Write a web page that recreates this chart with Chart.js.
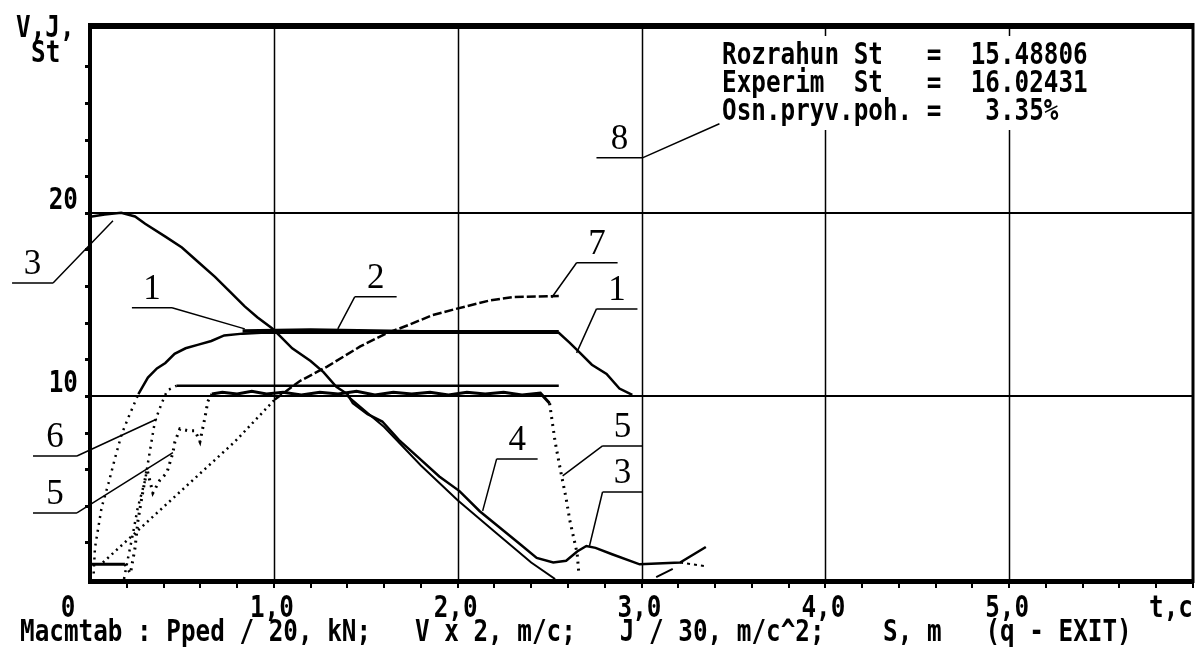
<!DOCTYPE html>
<html>
<head>
<meta charset="utf-8">
<script src="https://cdn.jsdelivr.net/npm/chart.js@4.4.0/dist/chart.umd.min.js"></script>
<style>
  html, body { margin: 0; padding: 0; background: #fff; }
  #brakeChart { display: block; }
</style>
</head>
<body>
<canvas id="brakeChart" width="1196" height="659"></canvas>
<script>
// axis ticks / labels
const timeTicks = [0, 1, 2, 3, 4, 5];
const timeTickLabels = ['0', '1,0', '2,0', '3,0', '4,0', '5,0'];
const valueGrid = [10, 20];
const valueTickLabels = ['10', '20'];

// curves: [t, value]
const curve1 = [[0.02,0.3],[0.027,1.7],[0.045,2.8],[0.063,3.9],[0.10,5.2],[0.136,6.6],[0.172,7.9],[0.208,8.8],
  [0.263,10.1],[0.315,11.0],[0.364,11.5],[0.41,11.8],[0.46,12.3],[0.52,12.6],[0.59,12.8],[0.66,13.0],
  [0.73,13.3],[0.83,13.4],[0.93,13.45],[2.55,13.45],[2.61,12.9],[2.66,12.4],[2.73,11.7],[2.81,11.2],
  [2.88,10.4],[2.95,10.05]];
const curve2 = [[0.83,13.55],[1.2,13.6],[1.8,13.5],[2.55,13.5]];
const curve3 = [[0.01,19.8],[0.08,19.9],[0.17,20.0],[0.245,19.8],[0.30,19.4],[0.41,18.7],[0.50,18.1],
  [0.59,17.3],[0.68,16.5],[0.75,15.8],[0.84,14.9],[0.91,14.3],[0.99,13.7],[1.03,13.3],[1.10,12.6],
  [1.20,11.9],[1.27,11.3],[1.34,10.5],[1.40,10.1],[1.43,9.6],[1.51,9.0],[1.59,8.6],[1.68,7.6],
  [1.79,6.6],[1.90,5.6],[2.01,4.8],[2.12,3.7],[2.23,2.8],[2.34,1.9],[2.43,1.15],[2.52,0.9],[2.59,1.0],
  [2.65,1.5],[2.70,1.8],[2.75,1.7],[2.84,1.35],[2.99,0.8],[3.21,0.9],[3.35,1.75]];
const curve3Branch = [[3.21,0.9],[3.35,0.7]];
const curve4 = [[1.40,10.0],[1.60,8.3],[1.80,6.2],[2.0,4.3],[2.2,2.6],[2.40,0.9],[2.53,0.0]];
const curve5 = [[0.0,0.8],[0.19,0.8],[0.22,0.3],[0.245,1.7],[0.261,3.2],[0.288,4.8],[0.31,6.0],
  [0.342,4.7],[0.38,5.4],[0.418,5.8],[0.451,6.9],[0.462,7.5],[0.489,8.2],[0.533,8.1],[0.571,8.1],
  [0.598,7.5],[0.625,8.8],[0.641,9.7],[0.663,10.1],[0.72,10.2],[0.80,10.1],[0.88,10.25],[0.96,10.1],
  [1.05,10.2],[1.15,10.05],[1.25,10.2],[1.35,10.1],[1.45,10.25],[1.55,10.05],[1.65,10.2],[1.75,10.1],
  [1.85,10.2],[1.95,10.05],[2.05,10.2],[2.15,10.1],[2.25,10.2],[2.35,10.05],[2.45,10.15],[2.50,9.6],
  [2.53,7.5],[2.56,5.9],[2.59,4.4],[2.61,3.2],[2.65,1.4],[2.66,0.2]];
const curve5Tail = [[3.08,0.1],[3.17,0.55]];
const curve6 = [[0.185,0.0],[0.207,1.15],[0.234,2.5],[0.26,3.9],[0.30,5.4],[0.326,7.0],[0.353,8.6],
  [0.39,9.6],[0.42,10.3],[0.47,10.55],[2.55,10.55]];
const curve7 = [[0.07,0.9],[0.516,5.0],[0.788,7.5],[1.005,9.8],[1.14,10.8],[1.29,11.6],[1.47,12.7],
  [1.61,13.4],[1.74,13.9],[1.86,14.4],[1.99,14.75],[2.17,15.2],[2.30,15.4],[2.55,15.45]];

// numbered call-outs: label, underline x0..x1 at y, pointer from left/right end to target (data units)
const callouts = [
  ['3', -0.424, -0.201, 16.17, 'R', 0.125, 19.56],
  ['1',  0.228,  0.446, 14.81, 'R', 0.842, 13.66],
  ['2',  1.440,  1.668, 15.41, 'L', 1.348, 13.66],
  ['7',  2.647,  2.870, 17.27, 'L', 2.511, 15.36],
  ['1',  2.755,  2.978, 14.75, 'L', 2.647, 12.35],
  ['8',  2.755,  3.005, 23.00, 'R', 3.424, 24.86],
  ['6', -0.310, -0.071,  6.72, 'R', 0.364, 8.74],
  ['5', -0.310, -0.071,  3.61, 'R', 0.451, 6.9],
  ['4',  2.212,  2.435,  6.56, 'L', 2.136, 3.72],
  ['5',  2.788,  3.005,  7.27, 'L', 2.571, 5.63],
  ['3',  2.788,  3.005,  4.75, 'L', 2.717, 1.80]
];

const infoLines = ['Rozrahun St   =  15.48806', 'Experim  St   =  16.02431', 'Osn.pryv.poh. =   3.35%'];
const footer = 'Macmtab : Pped / 20, kN;   V x 2, m/c;   J / 30, m/c^2;    S, m   (q - EXIT)';

const DOS = 'bold 24.3px "DejaVu Sans Mono"';
const dotted = [2, 5];
const pts = arr => arr.map(p => ({ x: p[0], y: p[1] }));

function line(data, width, dashFn) {
  const ds = { data: pts(data), borderColor: '#000', borderWidth: width, pointRadius: 0, tension: 0, fill: false };
  if (dashFn) ds.segment = { borderDash: dashFn };
  return ds;
}

// tall, narrow "screen font" text
function dosText(ctx, s, x, y, align) {
  ctx.save();
  ctx.font = DOS;
  ctx.textAlign = align || 'left';
  ctx.textBaseline = 'alphabetic';
  ctx.translate(x, y);
  ctx.scale(1, 1.22);
  ctx.fillText(s, 0, 0);
  ctx.restore();
}

const framePlugin = {
  id: 'frame',
  beforeDatasetsDraw(chart) {
    const { ctx, chartArea: a, scales: { x, y } } = chart;
    ctx.save();
    ctx.fillStyle = '#fff';
    ctx.fillRect(0, 0, chart.width, chart.height);
    ctx.strokeStyle = '#000';
    ctx.lineWidth = 1.5;
    timeTicks.slice(1).forEach(t => {
      const px = Math.round(x.getPixelForValue(t)) + 0.5;
      ctx.beginPath(); ctx.moveTo(px, a.top); ctx.lineTo(px, a.bottom); ctx.stroke();
    });
    ctx.lineWidth = 2;
    valueGrid.forEach(v => {
      const py = Math.round(y.getPixelForValue(v));
      ctx.beginPath(); ctx.moveTo(a.left, py); ctx.lineTo(a.right, py); ctx.stroke();
    });
    ctx.restore();
  },
  afterDatasetsDraw(chart) {
    const { ctx, chartArea: a, scales: { x, y } } = chart;
    ctx.save();
    ctx.strokeStyle = '#000';
    ctx.fillStyle = '#000';
    // frame
    ctx.lineWidth = 6; ctx.beginPath(); ctx.moveTo(a.left - 2, a.top); ctx.lineTo(a.right + 1, a.top); ctx.stroke();
    ctx.lineWidth = 4; ctx.beginPath(); ctx.moveTo(a.left, a.top - 3); ctx.lineTo(a.left, a.bottom + 4); ctx.stroke();
    ctx.lineWidth = 5; ctx.beginPath(); ctx.moveTo(a.left - 2, a.bottom + 2.5); ctx.lineTo(a.right + 1, a.bottom + 2.5); ctx.stroke();
    ctx.lineWidth = 3; ctx.beginPath(); ctx.moveTo(a.right, a.top - 3); ctx.lineTo(a.right, a.bottom + 4); ctx.stroke();
    // minor ticks
    for (let i = 1; i <= 30; i++) {
      const px = Math.round(x.getPixelForValue(i * 0.2));
      ctx.fillRect(px - 1, a.bottom + 4, 2, 5);
    }
    for (let i = 1; i <= 14; i++) {
      const py = Math.round(y.getPixelForValue(i * 2));
      ctx.fillRect(a.left - 5, py - 1, 3, 3);
    }

    // info box
    ctx.fillStyle = '#fff';
    ctx.fillRect(716, 36, 386, 94);
    ctx.fillStyle = '#000';
    infoLines.forEach((s, i) => dosText(ctx, s, 722, 64 + i * 28));

    // call-outs
    ctx.lineWidth = 1.5;
    ctx.font = '35px "Liberation Serif"';
    ctx.textAlign = 'center';
    ctx.textBaseline = 'alphabetic';
    callouts.forEach(([lab, x0, x1, uy, side, tx, ty]) => {
      const px0 = x.getPixelForValue(x0), px1 = x.getPixelForValue(x1), py = y.getPixelForValue(uy);
      const sx = side === 'R' ? px1 : px0;
      ctx.beginPath();
      ctx.moveTo(px0, py); ctx.lineTo(px1, py);
      ctx.moveTo(sx, py); ctx.lineTo(x.getPixelForValue(tx), y.getPixelForValue(ty));
      ctx.stroke();
      ctx.fillText(lab, (px0 + px1) / 2, py - 9);
    });

    // axis labels
    timeTicks.forEach((t, i) => {
      const px = t === 0 ? a.left - 22 : x.getPixelForValue(t) - 2;
      dosText(ctx, timeTickLabels[i], px, 617, 'center');
    });
    dosText(ctx, 't,c', 1171, 617, 'center');
    valueGrid.forEach((v, i) => dosText(ctx, valueTickLabels[i], 78, y.getPixelForValue(v) - 4, 'right'));
    dosText(ctx, 'V,J,', 16, 37);
    dosText(ctx, 'St', 31, 62);
    dosText(ctx, footer, 20, 641);
    ctx.restore();
  }
};

const ctx = document.getElementById('brakeChart').getContext('2d');
const brakeChart = new Chart(ctx, {
  type: 'line',
  data: {
    datasets: [
      line(curve1, 2.5, c => (c.p1.parsed.x <= 0.27 ? dotted : undefined)),
      line(curve2, 3.5),
      line(curve3, 2.5),
      line(curve3Branch, 2, () => [3, 4]),
      line(curve4, 2),
      line(curve5, 3, c => {
        const a0 = c.p0.parsed.x, b1 = c.p1.parsed.x;
        return ((a0 >= 0.19 && b1 <= 0.67) || a0 >= 2.5) ? dotted : undefined;
      }),
      line(curve5Tail, 2),
      line(curve6, 2.5, c => (c.p1.parsed.x <= 0.47 ? dotted : undefined)),
      line(curve7, 2.5, c => (c.p1.parsed.x <= 1.01 ? [2, 4] : [9, 3]))
    ]
  },
  options: {
    responsive: false,
    animation: false,
    events: [],
    layout: { padding: { left: 90, right: 3, top: 26, bottom: 80 } },
    plugins: { legend: { display: false }, tooltip: { enabled: false } },
    scales: {
      x: { type: 'linear', min: 0, max: 6, display: false },
      y: { type: 'linear', min: 0, max: 30.2, display: false }
    }
  },
  plugins: [framePlugin]
});
</script>
</body>
</html>
